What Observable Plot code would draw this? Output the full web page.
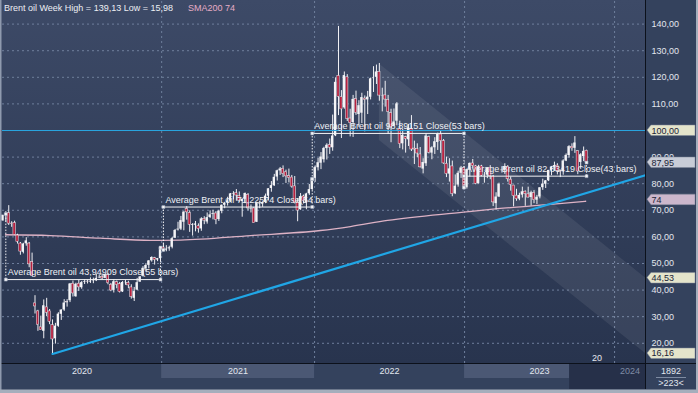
<!DOCTYPE html>
<html><head><meta charset="utf-8">
<script src="https://cdn.jsdelivr.net/npm/d3@7"></script>
<script src="https://cdn.jsdelivr.net/npm/@observablehq/plot@0.6"></script>
<style>
html,body{margin:0;padding:0;background:#34425d;}
#chart{width:698px;height:393px;overflow:hidden;}
svg{display:block;}
</style></head><body><div id="chart"></div>
<script>
// ---- data (weekly bars, week ending Fridays, first = 2019-12-27) ----
const firstWeek = "2019-12-27";
const opens = [66.0,68.2,68.9,65.0,65.2,60.5,57.5,54.2,57.4,57.5,
50.6,35.0,32.0,26.0,24.5,33.5,32.0,26.8,21.7,26.4,
30.9,32.5,35.5,36.0,42.4,37.5,42.4,40.9,43.0,43.2,
43.0,43.4,43.5,44.6,45.0,44.4,45.6,42.0,39.9,43.0,
42.2,39.3,42.8,42.7,41.0,36.9,40.0,43.0,45.2,48.0,
49.3,51.0,52.0,51.3,51.8,56.0,55.0,55.5,56.1,59.5,
62.6,62.9,65.5,70.5,69.0,64.3,64.4,64.0,63.0,66.8,
65.6,67.3,68.4,68.8,66.5,69.6,71.9,72.8,73.5,76.2,
76.4,75.3,73.3,74.1,75.8,70.4,70.7,65.5,72.4,72.3,
72.9,75.3,78.2,79.2,82.5,84.8,85.6,84.3,82.8,82.3,
79.0,73.0,70.2,75.2,72.9,76.2,77.8,82.0,86.0,87.7,
89.0,93.2,94.5,93.5,98.0,120.5,112.5,108.5,120.0,104.5,
103.0,111.8,106.0,106.5,112.0,111.5,112.5,119.5,120.0,122.0,
113.0,113.2,111.5,106.5,101.5,103.5,100.5,95.0,97.5,96.5,
100.5,93.2,93.0,91.0,85.5,87.5,97.5,91.5,93.5,95.5,
98.5,96.0,87.5,83.6,86.5,76.2,79.5,83.9,85.9,78.6,
85.2,87.6,86.5,80.0,86.5,83.0,83.2,86.0,82.7,72.5,
75.0,84.9,85.0,86.3,81.5,79.3,75.5,74.2,75.7,77.0,
76.0,74.8,76.5,73.8,75.0,78.5,79.8,81.1,85.0,86.2,
86.8,84.8,84.5,88.5,90.6,93.9,93.3,92.2,88.0,90.2,
92.4];
const highs = [68.0,69.5,71.75,65.7,65.9,61.0,57.9,57.6,59.7,57.9,
53.9,37.9,32.4,30.2,36.3,36.9,32.7,28.8,27.5,31.5,
32.6,36.4,36.4,42.5,43.4,42.6,43.6,43.2,43.9,43.8,
44.6,44.5,46.0,45.7,45.9,46.0,46.2,42.5,43.9,43.4,
42.9,43.2,43.7,43.3,42.0,41.0,44.4,45.1,48.8,49.9,
51.1,52.5,52.3,51.9,56.3,57.4,56.7,56.5,59.8,62.8,
65.5,67.7,69.4,71.4,69.8,65.0,65.8,64.9,67.2,67.6,
69.0,69.8,70.0,69.5,70.0,72.0,73.0,74.9,76.3,77.0,
77.8,76.9,74.3,76.5,76.3,72.0,71.0,72.7,73.4,73.2,
76.1,78.1,80.8,83.5,85.1,86.1,86.7,85.1,85.5,83.1,
82.7,74.4,76.3,75.7,76.4,79.7,82.3,86.7,89.5,91.7,
93.7,95.0,96.8,105.8,119.8,139.13,115.0,122.0,121.0,108.0,
113.2,114.8,111.2,114.0,113.0,114.7,119.7,124.0,124.6,125.2,
115.9,118.5,113.2,108.0,108.1,110.5,103.5,100.5,97.8,102.3,
105.6,96.0,95.0,93.6,89.4,98.8,97.9,93.9,97.3,99.0,
99.6,96.6,90.0,89.4,88.5,83.3,84.7,86.5,86.4,85.5,
87.8,89.1,86.9,86.9,86.9,84.2,86.0,86.8,83.1,76.6,
80.2,86.4,87.5,86.8,82.5,79.4,77.9,76.4,78.7,77.3,
78.7,77.2,77.4,75.6,78.5,81.7,81.2,85.0,86.5,88.1,
87.5,85.0,89.0,91.2,94.3,95.0,97.7,92.3,91.3,93.8,
92.6];
const lows = [65.9,65.6,64.3,63.6,60.5,57.3,53.1,53.6,56.5,48.4,
45.2,31.0,24.5,24.9,21.7,30.0,27.0,15.98,19.7,26.0,
28.6,32.0,33.6,35.3,37.4,37.3,39.5,40.3,42.1,42.3,
42.5,42.4,43.2,44.3,43.9,44.3,42.0,39.4,38.9,40.5,
38.9,39.1,41.8,40.5,36.6,35.7,39.8,42.9,44.9,46.8,
48.0,50.5,49.4,50.7,50.4,54.3,54.4,54.6,55.5,59.4,
62.2,62.4,62.3,66.3,61.7,60.3,61.9,61.4,62.1,64.6,
64.8,66.9,66.4,64.6,65.8,68.7,70.6,71.6,72.9,73.9,
73.4,73.0,67.4,72.5,69.8,69.0,65.2,65.4,70.6,71.1,
72.5,73.5,76.8,79.0,81.0,83.1,82.3,80.1,80.3,78.3,
72.4,65.7,70.0,72.4,70.2,75.6,77.5,80.5,84.8,85.3,
87.8,88.9,91.0,92.2,97.7,105.6,97.0,108.0,103.4,97.6,
97.4,105.7,101.2,102.6,99.5,106.0,111.5,114.3,117.3,111.0,
107.0,108.8,98.5,95.4,101.4,101.8,93.2,92.7,91.5,94.0,
92.1,87.2,89.8,85.9,83.7,86.5,91.2,89.0,91.0,92.5,
91.4,87.3,82.3,80.6,75.1,75.9,78.7,82.0,77.6,78.0,
82.5,85.9,79.6,79.9,82.6,80.2,81.9,81.5,71.4,70.1,
74.8,84.0,83.5,80.6,77.2,71.3,73.4,73.6,74.6,71.5,
74.6,71.6,72.5,72.2,74.3,77.5,78.2,80.8,83.0,84.6,
83.3,82.3,83.2,88.3,89.6,92.2,91.4,83.4,85.4,88.3,
87.5];
const closes = [68.16,68.60,64.98,64.85,60.69,58.16,54.47,57.32,58.50,49.67,
45.27,33.85,26.98,24.93,34.11,31.48,28.08,21.44,26.44,30.97,
32.50,35.13,35.33,42.30,38.73,42.19,41.02,42.80,43.24,43.14,
43.34,43.52,44.40,44.80,44.35,45.81,42.66,39.83,43.15,41.92,
39.27,42.85,42.93,41.77,37.46,39.45,42.78,44.96,48.18,49.25,
50.97,52.26,51.29,51.80,55.99,55.10,55.41,55.88,59.34,62.43,
62.91,66.13,69.36,69.22,64.53,64.57,64.86,62.95,66.77,66.11,
67.25,68.28,68.71,66.44,69.63,71.89,72.69,73.51,76.18,76.17,
75.55,73.59,74.10,76.33,70.70,70.59,65.18,72.70,72.61,72.92,
75.34,78.09,79.28,82.39,84.86,85.53,83.72,82.74,82.17,78.89,
72.72,69.88,75.15,73.52,76.14,77.78,81.75,86.06,87.89,90.03,
93.27,94.44,93.54,97.93,118.11,112.67,107.93,120.65,104.39,102.78,
111.70,106.65,109.34,112.39,111.55,112.55,119.43,119.72,122.01,113.12,
113.12,111.63,107.02,101.16,103.20,110.01,94.92,98.15,96.72,100.99,
92.84,92.84,91.35,86.15,87.96,97.92,91.63,93.50,95.77,98.57,
95.99,87.62,83.63,85.57,76.10,79.04,83.92,85.91,78.57,85.28,
87.63,86.66,79.94,86.39,83.00,83.16,85.83,82.78,72.97,74.99,
79.77,85.12,86.31,81.66,79.54,75.30,74.17,75.58,76.95,76.13,
74.79,76.61,73.85,74.90,78.47,79.87,81.07,84.99,86.24,86.81,
84.80,84.48,88.55,90.65,93.93,93.27,95.31,84.58,90.89,92.16,
87.95];

// SMA200: [bar slot, value]
const smaSlots  = [0.9, 16.3, 33.4, 50.6, 60.9, 84.9, 108.8, 119.1, 131.8, 157.9, 169.5, 187.7, 199.7];
const smaValues = [60.8, 60.5, 59.5, 58.7, 58.8, 60.5, 62.4, 63.9, 66.2, 69.3, 70.6, 72.2, 73.4];

// Average objects
const segStart = [1, 55, 106, 158];
const segEnd   = [54, 106, 158, 200];
const segAvg   = [43.94909, 71.22574, 98.89151, 82.83419];
const segAvgText = ["43,94909", "71,22574", "98,89151", "82,83419"];
const segBars  = [55, 54, 53, 43];

// Trend line (from the 2020 low) and descending channel
const trendSlots = [17, 220.2];
const trendValues = [15.98, 83.2];
const channelSlots = [129, 220.2];
const channelUpper = [125.0, 44.53];
const channelLower = [96.2, 16.16];

// axes
const xDomain = [-0.14, 220.2];
const yDomain = [12.4, 148.5];
const yTicks = [20, 30, 40, 50, 60, 70, 80, 90, 100, 110, 120, 130, 140];
const yearBounds = [54.4, 106.8, 158.2, 209.6];
const yearLabels = ["2020", "2021", "2022", "2023", "2024"];
const hline = [100];

// right-side value tags
const tagValues = [100, 87.95, 74, 44.53, 16.16];
const tagTexts  = ["100,00", "87,95", "74", "44,53", "16,16"];
const tagFills  = ["#e4e4cb", "#c8ccd7", "#ccb7cc", "#e4e4cb", "#e4e4cb"];

const titleText = "Brent oil Week High = 139,13 Low = 15,98";
const smaText = "SMA200 74";
const channelNote = "20";
const cornerTop = "1892";
const cornerBottom = ">223<";

// ---- build ----
const bars = opens.map((o, i) => ({i, o, h: highs[i], l: lows[i], c: closes[i]}));
const sma = smaSlots.map((s, k) => ({x: s, y: smaValues[k]}));
const trend = trendSlots.map((s, k) => ({x: s, y: trendValues[k]}));
const channel = channelSlots.map((s, k) => ({x: s, hi: channelUpper[k], lo: channelLower[k]}));
const segs = segStart.map((s, k) => ({s, e: segEnd[k], avg: segAvg[k],
  label: `Average Brent oil ${segAvgText[k]} Close(${segBars[k]} bars)`}));
const segEnds = segs.flatMap(d => [{x: d.s, y1: d.avg, y2: closes[d.s]}, {x: d.e, y1: d.avg, y2: closes[d.e]}]);
const handles = segs.flatMap(d => [{x: d.s, y: d.avg}, {x: d.s, y: closes[d.s]}, {x: d.e, y: d.avg}, {x: d.e, y: closes[d.e]}]);
const edges = [xDomain[0], ...yearBounds, xDomain[1]];
const yearMids = yearLabels.map((t, k) => (edges[k] + edges[k + 1]) / 2);
const fmt = d => d.toFixed(2).replace(".", ",");
const font = "'Liberation Sans', Arial, Helvetica, sans-serif";
const grid = {stroke: "#6f7f9c", strokeDasharray: "2,3", strokeWidth: 1};

const plot = Plot.plot({
  width: 698, height: 393,
  marginLeft: 2, marginRight: 53, marginTop: 1, marginBottom: 30,
  style: {background: "transparent", fontFamily: font, fontSize: "9px", color: "#e2e6ee", overflow: "visible"},
  x: {type: "linear", domain: xDomain, axis: null},
  y: {type: "linear", domain: yDomain, axis: null},
  marks: [
    Plot.ruleY(yTicks, grid),
    Plot.ruleX(yearBounds, grid),
    Plot.areaY(channel, {x: "x", y1: "lo", y2: "hi", fill: "#ffffff", fillOpacity: 0.075, clip: true}),
    Plot.line(sma, {x: "x", y: "y", stroke: "#ddb2c5", strokeWidth: 1.3, curve: "monotone-x"}),
    Plot.ruleX(bars, {x: "i", y1: "l", y2: "h", stroke: "#f0f0f4", strokeWidth: 1}),
    Plot.rect(bars, {x1: d => d.i - 0.4, x2: d => d.i + 0.4, y1: "o", y2: "c",
      fill: d => d.c >= d.o ? "#f4f4f7" : "#b5213f",
      stroke: d => d.c >= d.o ? "none" : "#ececf0", strokeWidth: 0.5}),
    Plot.ruleY(hline, {stroke: "#29a4de", strokeWidth: 1, clip: true}),
    Plot.line(trend, {x: "x", y: "y", stroke: "#20a6e6", strokeWidth: 2.2, clip: true}),
    Plot.ruleY(segs, {x1: "s", x2: "e", y: "avg", stroke: "#f2f2f5", strokeWidth: 1}),
    Plot.ruleX(segEnds, {x: "x", y1: "y1", y2: "y2", stroke: "#f2f2f5", strokeWidth: 1, strokeDasharray: "1.5,1.5"}),
    Plot.dot(handles, {x: "x", y: "y", symbol: "square", r: 1.7, fill: "#f4f4f6", stroke: "#8e9ab0", strokeWidth: 0.5}),
    Plot.text(segs, {x: "s", y: "avg", text: "label", textAnchor: "start", dx: 2, dy: -7, fill: "#eef0f5", fontSize: 9}),
    Plot.text([channelNote], {x: 203.6, y: 14.4, text: d => d, fill: "#e6e8ee", fontSize: 9}),
    Plot.axisY(yTicks, {anchor: "right", tickSize: 0, tickPadding: 6, tickFormat: fmt, textAnchor: "start", fontSize: 9}),
    Plot.axisX(yearMids.slice(0, 4), {anchor: "bottom", tickSize: 0, tickPadding: 4, fontSize: 9,
      tickFormat: d => yearLabels[yearMids.indexOf(d)]}),
    Plot.axisX(yearMids.slice(4), {anchor: "bottom", tickSize: 0, tickPadding: 4, fontSize: 9, color: "#7f8ca5",
      tickFormat: d => yearLabels[yearMids.indexOf(d)]})
  ]
});
document.getElementById("chart").appendChild(plot);

// ---- decorations using the plot's scales ----
const svg = d3.select(plot);
const X = v => plot.scale("x").apply(v);
const Y = v => plot.scale("y").apply(v);
const L = 2, R = 645, T = 1, B = 363, W = 698, H = 393;

const defs = svg.insert("defs", ":first-child");
const g1 = defs.append("linearGradient").attr("id", "bgGrad").attr("x1", 0).attr("y1", 0).attr("x2", 0).attr("y2", 1);
g1.append("stop").attr("offset", "0%").attr("stop-color", "#3d4a67");
g1.append("stop").attr("offset", "100%").attr("stop-color", "#28344e");

const bg = svg.insert("g", "defs + *");
bg.append("rect").attr("x", 0).attr("y", 0).attr("width", W).attr("height", H).attr("fill", "#34425d");
bg.append("rect").attr("x", 0).attr("y", 0).attr("width", R).attr("height", B).attr("fill", "url(#bgGrad)");
[[yearBounds[0], yearBounds[1]], [yearBounds[2], 194.2]].forEach(([a, b]) => {
  bg.append("rect").attr("x", X(a)).attr("y", B + 1).attr("width", X(b) - X(a)).attr("height", 14).attr("fill", "#4b5874");
});
bg.append("rect").attr("x", X(194.2)).attr("y", B + 1).attr("width", R - X(194.2)).attr("height", 25).attr("fill", "#263049");

// average label boxes
svg.selectAll("text").filter(function () { return this.textContent.startsWith("Average"); }).each(function () {
  const b = this.getBBox();
  d3.select(this.parentNode).insert("rect", () => this)
    .attr("x", b.x - 2).attr("y", b.y).attr("width", b.width + 7).attr("height", b.height + 0.5)
    .attr("fill", "#8a97ae").attr("fill-opacity", 0.36);
});

const fg = svg.append("g").attr("text-anchor", "start").attr("font-family", font).attr("font-size", 9);
fg.append("line").attr("x1", R + 0.5).attr("x2", R + 0.5).attr("y1", 0).attr("y2", 389).attr("stroke", "#0c111b");
fg.append("line").attr("x1", 0).attr("x2", W).attr("y1", B + 0.5).attr("y2", B + 0.5).attr("stroke", "#0c111b");
fg.append("rect").attr("x", 0).attr("y", 0).attr("width", 1.5).attr("height", H).attr("fill", "#8f9aae");
fg.append("rect").attr("x", 0).attr("y", 389.5).attr("width", W).attr("height", 3.5).attr("fill", "#a5aebc");
fg.append("rect").attr("x", 696).attr("y", 0).attr("width", 2).attr("height", H).attr("fill", "#a5aebc");

// value tags on the right axis
tagValues.forEach((v, k) => {
  const y = Y(v);
  fg.append("path")
    .attr("d", `M${R + 2},${y} L${R + 6},${y - 5} L${R + 50},${y - 5} L${R + 50},${y + 5.5} L${R + 6},${y + 5.5} Z`)
    .attr("fill", tagFills[k]).attr("stroke", "#7d8698").attr("stroke-width", 0.5);
  fg.append("text").attr("x", R + 6.5).attr("y", y + 3.5).attr("text-anchor", "start")
    .attr("fill", "#1b2336").text(tagTexts[k]);
});

// header
fg.append("text").attr("x", 4).attr("y", 10.5).attr("text-anchor", "start")
  .attr("fill", "#eceef3").text(titleText);
fg.append("text").attr("x", 188).attr("y", 10.5).attr("text-anchor", "start")
  .attr("fill", "#e6adc5").text(smaText);

// corner
fg.append("text").attr("x", 671).attr("y", 374).attr("text-anchor", "middle")
  .attr("fill", "#e2e6ee").text(cornerTop);
fg.append("line").attr("x1", 656).attr("x2", 686).attr("y1", 377.5).attr("y2", 377.5).attr("stroke", "#7e8ba2");
fg.append("text").attr("x", 671).attr("y", 386).attr("text-anchor", "middle")
  .attr("fill", "#e2e6ee").text(cornerBottom);
</script>
</body></html>
